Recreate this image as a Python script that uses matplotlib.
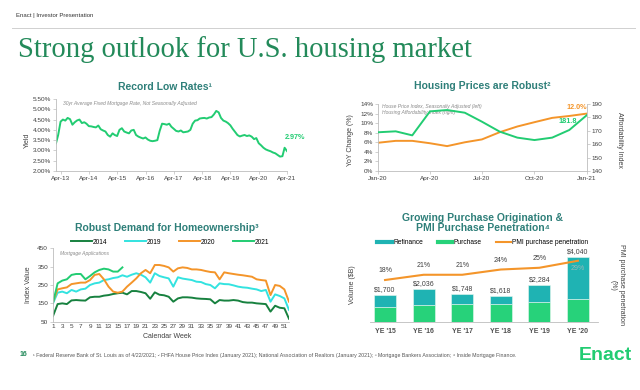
import matplotlib.pyplot as plt
import numpy as np
import pandas as pd
from matplotlib.lines import Line2D
from matplotlib.ticker import FuncFormatter

plt.rcParams['font.family'] = ['Liberation Sans', 'DejaVu Sans']

# colours
LINE_GREEN = '#22cc72'
DARK_GREEN = '#17813f'
CYAN = '#33e3e0'
ORANGE = '#f4952a'
REFI = '#1fb3b3'
PURCH = '#27d27a'
TITLE_TEAL = '#2e7f79'
SLIDE_GREEN = '#238a5a'
AXIS_GRAY = '#bdbdbd'
TEXT_GRAY = '#404040'

# ---- Record Low Rates (30yr fixed, monthly, Feb-13 .. Apr-21) ----
rates = [3.35, 3.75, 4.40, 4.50, 4.45, 4.58, 4.52, 4.25, 4.37, 4.46,
         4.50, 4.33, 4.37, 4.30, 4.18, 4.17, 4.14, 4.12, 4.21, 4.03,
         3.97, 3.92, 3.75, 3.67, 3.83, 3.75, 3.70, 4.00, 4.08, 3.92,
         3.87, 3.83, 3.97, 4.00, 3.75, 3.67, 3.62, 3.58, 3.63, 3.53,
         3.47, 3.45, 3.47, 3.50, 3.95, 4.30, 4.28, 4.25, 4.30, 4.15,
         4.05, 3.95, 3.92, 3.97, 3.88, 3.90, 3.92, 4.00, 4.30, 4.45,
         4.47, 4.55, 4.57, 4.58, 4.55, 4.60, 4.62, 4.75, 4.92, 4.85,
         4.58, 4.45, 4.40, 4.33, 4.22, 4.05, 3.90, 3.75, 3.68, 3.72,
         3.75, 3.70, 3.73, 3.67, 3.55, 3.60, 3.35, 3.25, 3.13, 3.05,
         3.00, 2.96, 2.90, 2.86, 2.78, 2.70, 2.72, 3.13, 2.97]
rate_dates = pd.date_range('2013-02-01', periods=len(rates), freq='MS')
rate_ticks = pd.date_range('2013-04-01', '2021-04-01', freq='12MS')
rate_tick_labels = ['Apr-13', 'Apr-14', 'Apr-15', 'Apr-16', 'Apr-17',
                    'Apr-18', 'Apr-19', 'Apr-20', 'Apr-21']

# ---- Housing Prices are Robust ----
hp_months = pd.date_range('2020-01-01', '2021-01-01', freq='MS')
hpi_yoy = [5.9, 6.3, 6.3, 5.8, 5.2, 6.0, 6.6, 8.1, 9.3, 10.2, 11.1, 11.5, 12.0]
afford = [168.9, 169.6, 166.6, 184.5, 185.5, 183.5, 176.8, 169.4, 164.9,
          163.1, 164.9, 170.6, 181.8]
hp_ticks = pd.to_datetime(['2020-01-01', '2020-04-01', '2020-07-01',
                           '2020-10-01', '2021-01-01'])
hp_tick_labels = ['Jan-20', 'Apr-20', 'Jul-20', 'Oct-20', 'Jan-21']

# ---- Robust Demand for Homeownership (weekly index) ----
apps_2014 = [81, 146, 150, 146, 166, 168, 166, 165, 183, 186,
             186, 192, 195, 201, 205, 208, 199, 217, 217, 212,
             205, 175, 210, 197, 194, 186, 159, 177, 183, 183,
             181, 177, 175, 174, 172, 150, 168, 165, 165, 168,
             165, 157, 154, 154, 150, 148, 146, 105, 137, 126, 123, 66]
apps_2019 = [150, 208, 214, 205, 223, 214, 226, 230, 250, 259,
             263, 277, 281, 288, 292, 303, 295, 306, 314, 306,
             292, 263, 314, 299, 292, 286, 241, 292, 285, 281,
             277, 268, 266, 255, 250, 232, 259, 255, 254, 248,
             241, 237, 235, 230, 226, 217, 223, 159, 199, 190, 177, 114]
apps_2020 = [159, 226, 232, 237, 255, 259, 263, 263, 277, 305,
             310, 281, 241, 214, 208, 214, 241, 263, 286, 314,
             332, 314, 359, 359, 354, 346, 323, 341, 346, 343,
             335, 335, 332, 326, 321, 319, 281, 319, 314, 310,
             306, 303, 299, 295, 281, 277, 274, 195, 250, 245, 226, 159]
apps_2021 = [154, 259, 274, 281, 305, 310, 310, 281, 299, 319,
             332, 339, 335, 323, 323, 346]

# ---- Purchase origination & PMI penetration ----
years = ["YE '15", "YE '16", "YE '17", "YE '18", "YE '19", "YE '20"]
totals = [1700, 2036, 1748, 1618, 2284, 4040]
purchase = [935, 1040, 1130, 1150, 1260, 1420]
refinance = [t - p for t, p in zip(totals, purchase)]
pmi_pen = [18, 21, 21, 24, 25, 29]


def fx(px):
    return px / 640


def fy(py):
    return 1 - py / 390


def style(ax):
    for s in ['top', 'right']:
        ax.spines[s].set_visible(False)
    for s in ['left', 'bottom']:
        ax.spines[s].set_color(AXIS_GRAY)
        ax.spines[s].set_linewidth(0.6)
    ax.tick_params(labelsize=4.6, colors=AXIS_GRAY, labelcolor=TEXT_GRAY,
                   length=2, width=0.5, pad=1.5)


fig = plt.figure(figsize=(6.4, 3.9), dpi=100)

# header / slide title
fig.text(fx(16), fy(16), 'Enact | Investor Presentation', fontsize=4.3,
         color='#333333', va='center')
fig.add_artist(Line2D([fx(12), fx(635)], [fy(28), fy(28)], color='#d0d0d0', lw=0.7))
fig.text(fx(18), fy(50), 'Strong outlook for U.S. housing market',
         family='Liberation Serif', fontsize=20.6, color=SLIDE_GREEN, va='center')

# ---------------- top left ----------------
fig.text(fx(165), fy(87), 'Record Low Rates¹', ha='center', va='center',
         fontsize=7.5, weight='bold', color=TITLE_TEAL)
ax1 = fig.add_axes([fx(56), fy(171), 231 / 640, 72 / 390])
style(ax1)
ax1.plot(rate_dates, rates, color=LINE_GREEN, lw=1.4)
ax1.set_xlim(rate_dates[0], rate_dates[-1])
ax1.set_ylim(2.0, 5.5)
ax1.set_yticks(np.arange(2.0, 5.51, 0.5))
ax1.yaxis.set_major_formatter(FuncFormatter(lambda v, _: f'{v:.2f}%'))
ax1.set_xticks(rate_ticks)
ax1.set_xticklabels(rate_tick_labels)
ax1.text(0.03, 0.97, '30yr Average Fixed Mortgage Rate, Not Seasonally Adjusted',
         transform=ax1.transAxes, fontsize=3.6, style='italic', color='#8a8a8a', va='top')
ax1.annotate('2.97%', xy=(rate_dates[-1], rates[-1]), xytext=(6, 7),
             textcoords='offset points', ha='center', va='bottom',
             fontsize=5.2, color=LINE_GREEN, weight='bold')
fig.text(fx(27), fy(140), 'Yield', rotation=90, ha='center', va='center',
         fontsize=5, color=TEXT_GRAY)

# ---------------- top right ----------------
fig.text(fx(482), fy(86), 'Housing Prices are Robust²', ha='center', va='center',
         fontsize=7.5, weight='bold', color=TITLE_TEAL)
ax2 = fig.add_axes([fx(378), fy(171), 209 / 640, 67 / 390])
style(ax2)
ax2.plot(hp_months, hpi_yoy, color=ORANGE, lw=1.4)
ax2.set_ylim(0, 14)
ax2.set_yticks(range(0, 15, 2))
ax2.yaxis.set_major_formatter(FuncFormatter(lambda v, _: f'{v:.0f}%'))
ax2.set_xlim(hp_months[0], hp_months[-1])
ax2.set_xticks(hp_ticks)
ax2.set_xticklabels(hp_tick_labels)
ax2r = ax2.twinx()
ax2r.plot(hp_months, afford, color=LINE_GREEN, lw=1.4)
ax2r.set_ylim(140, 190)
ax2r.set_yticks(range(140, 191, 10))
for s in ['top', 'left', 'bottom']:
    ax2r.spines[s].set_visible(False)
ax2r.spines['right'].set_color(AXIS_GRAY)
ax2r.spines['right'].set_linewidth(0.6)
ax2r.tick_params(labelsize=4.6, colors=AXIS_GRAY, labelcolor=TEXT_GRAY,
                 length=2, width=0.5, pad=1.5)
ax2.text(0.02, 1.0, 'House Price Index, Seasonally Adjusted (left)\nHousing Affordability Index (right)',
         transform=ax2.transAxes, fontsize=3.6, style='italic', color='#8a8a8a',
         va='top', linespacing=1.3)
ax2.annotate('12.0%', xy=(hp_months[-1], hpi_yoy[-1]), xytext=(-7, 4.5),
             textcoords='offset points', ha='center', va='center',
             fontsize=5.2, color=ORANGE, weight='bold')
ax2r.annotate('181.8', xy=(hp_months[-1], afford[-1]), xytext=(-14, -5),
              textcoords='offset points', ha='center', va='center',
              fontsize=5.2, color=LINE_GREEN, weight='bold')
fig.text(fx(351), fy(140), 'YoY Change (%)', rotation=90, ha='center', va='center',
         fontsize=5, color=TEXT_GRAY)
fig.text(fx(619), fy(140), 'Affordability Index', rotation=-90, ha='center',
         va='center', fontsize=5, color=TEXT_GRAY)

# ---------------- bottom left ----------------
fig.text(fx(167), fy(228), 'Robust Demand for Homeownership³', ha='center',
         va='center', fontsize=7.5, weight='bold', color=TITLE_TEAL)
ax3 = fig.add_axes([fx(53), fy(321.7), 236 / 640, 73.4 / 390])
style(ax3)
for label, vals, color in [('2014', apps_2014, DARK_GREEN),
                           ('2019', apps_2019, CYAN),
                           ('2020', apps_2020, ORANGE),
                           ('2021', apps_2021, LINE_GREEN)]:
    ax3.plot(range(1, len(vals) + 1), vals, color=color, lw=1.4, label=label)
ax3.set_xlim(1, 52)
ax3.set_ylim(50, 450)
ax3.set_yticks(range(50, 451, 100))
ax3.set_xticks(range(1, 52, 2))
ax3.tick_params(axis='x', length=0)
ax3.text(0.03, 0.97, 'Mortgage Applications', transform=ax3.transAxes,
         fontsize=3.6, style='italic', color='#8a8a8a', va='top')
ax3.legend(loc='center', bbox_to_anchor=(fx(170), fy(242)),
           bbox_transform=fig.transFigure, ncol=4, frameon=False, fontsize=4.8,
           handlelength=3.2, handletextpad=0.1, columnspacing=2.6, borderpad=0)
fig.text(fx(29), fy(285), 'Index Value', rotation=90, ha='center', va='center',
         fontsize=5, color=TEXT_GRAY)
fig.text(fx(167), fy(337), 'Calendar Week', ha='center', va='center',
         fontsize=5, color=TEXT_GRAY)

# ---------------- bottom right ----------------
fig.text(fx(483), fy(223), 'Growing Purchase Origination &\nPMI Purchase Penetration⁴',
         ha='center', va='center', fontsize=7.5, weight='bold', color=TITLE_TEAL,
         linespacing=1.1)
ax4 = fig.add_axes([fx(370), fy(322), 228 / 640, 74 / 390])
style(ax4)
ax4.spines['left'].set_visible(False)
x = np.arange(len(years))
ax4.bar(x, purchase, width=0.57, color=PURCH, edgecolor='#e8f8ef', lw=0.4)
ax4.bar(x, refinance, bottom=purchase, width=0.57, color=REFI,
        edgecolor='#e8f8ef', lw=0.4)
for xi, t in zip(x, totals):
    ax4.annotate(f'${t:,}', xy=(xi, t), xytext=(0, 1.5), textcoords='offset points',
                 ha='center', va='bottom', fontsize=5, color=TEXT_GRAY)
ax4.set_xlim(-0.39, 5.52)
ax4.set_ylim(0, 4600)
ax4.set_yticks([])
ax4.set_xticks(x)
ax4.set_xticklabels(years, fontsize=5, weight='bold', color='#505050')
ax4.tick_params(axis='x', length=0, pad=4)
ax4r = ax4.twinx()
ax4r.plot(x, pmi_pen, color=ORANGE, lw=1.5)
ax4r.set_ylim(-6, 36.3)
ax4r.set_yticks([])
for s in ax4r.spines.values():
    s.set_visible(False)
for xi, p in zip(x, pmi_pen):
    if xi == len(x) - 1:
        ax4r.annotate(f'{p}%', xy=(xi, p), xytext=(0, -3), textcoords='offset points',
                      ha='center', va='top', fontsize=5, color='#9ab8b8')
    else:
        ax4r.annotate(f'{p}%', xy=(xi, p), xytext=(0, 4), textcoords='offset points',
                      ha='center', va='bottom', fontsize=5, color=TEXT_GRAY)
handles = [Line2D([], [], color=REFI, lw=3), Line2D([], [], color=PURCH, lw=3),
           Line2D([], [], color=ORANGE, lw=1.5)]
ax4.legend(handles, ['Refinance', 'Purchase', 'PMI purchase penetration'],
           loc='center', bbox_to_anchor=(fx(483), fy(243)),
           bbox_transform=fig.transFigure, ncol=3, frameon=False, fontsize=4.8,
           handlelength=2.2, handletextpad=0.2, columnspacing=2.2, borderpad=0)
fig.text(fx(353), fy(285), 'Volume ($B)', rotation=90, ha='center', va='center',
         fontsize=5, color=TEXT_GRAY)
fig.text(fx(617), fy(285), 'PMI purchase penetration\n(%)', rotation=-90,
         ha='center', va='center', fontsize=5, color=TEXT_GRAY, multialignment='center')

# footer
fig.text(fx(20), fy(355), '16', fontsize=5, weight='bold', color=SLIDE_GREEN, va='center')
fig.text(fx(33), fy(355),
         '¹ Federal Reserve Bank of St. Louis as of 4/22/2021; ² FHFA House Price Index '
         '(January 2021); National Association of Realtors (January 2021); '
         '³ Mortgage Bankers Association; ⁴ Inside Mortgage Finance.',
         fontsize=3.75, color='#555555', va='center')
fig.text(fx(632), fy(355), 'Enact', fontsize=14, weight='bold', color=LINE_GREEN,
         ha='right', va='center')

fig.savefig('out.png', dpi=100)
